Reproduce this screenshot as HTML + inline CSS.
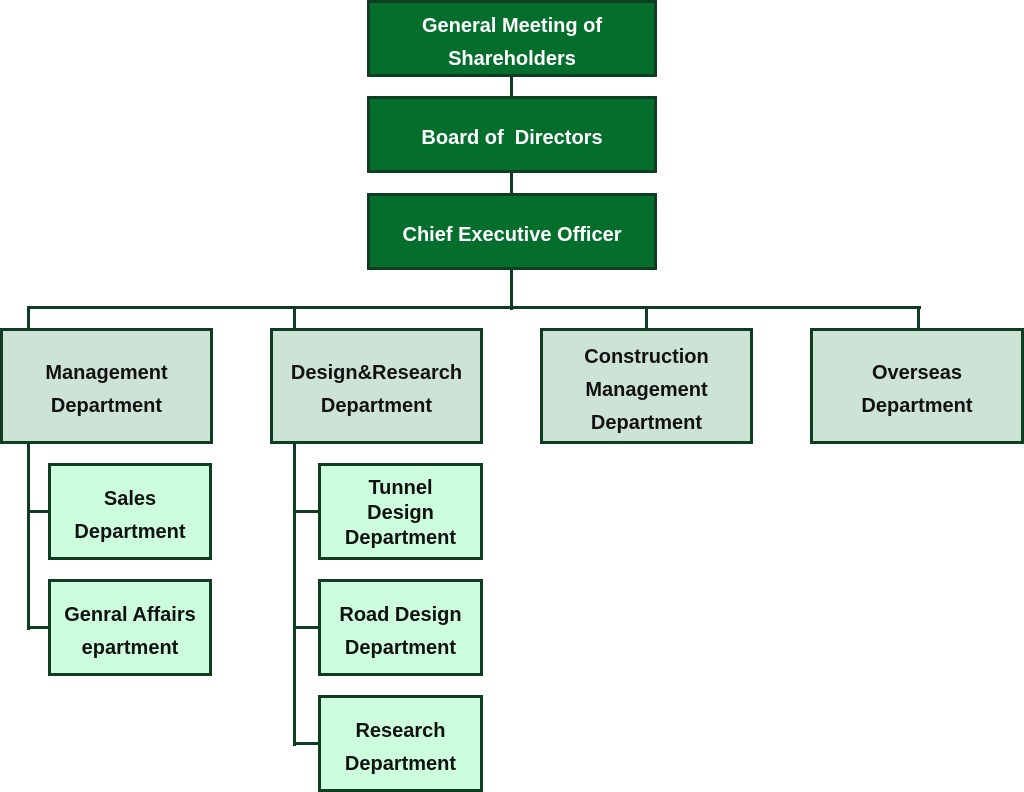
<!DOCTYPE html>
<html><head><style>
body{margin:0;width:1024px;height:792px;background:#fff;position:relative;overflow:hidden;font-family:"Liberation Sans","DejaVu Sans",sans-serif;font-weight:bold;}
.b{position:absolute;box-sizing:border-box;border:3px solid #0f3d22;display:flex;align-items:center;justify-content:center;text-align:center;font-size:20px;line-height:33px;padding-top:8px;}
.t{background:#046f2d;color:#fff;}
.m{background:#cde3d6;color:#111;}
.s{background:#ccfddd;color:#111;line-height:25px;}
.l{position:absolute;background:#0f3d22;}
</style></head><body>
<div class="l" style="left:510px;top:70px;width:3px;height:240px"></div>
<div class="l" style="left:27px;top:306px;width:894px;height:3px"></div>
<div class="l" style="left:27px;top:306px;width:3px;height:324px"></div>
<div class="l" style="left:293px;top:306px;width:3px;height:440px"></div>
<div class="l" style="left:645px;top:306px;width:3px;height:30px"></div>
<div class="l" style="left:917px;top:306px;width:3px;height:30px"></div>
<div class="l" style="left:27px;top:510px;width:25px;height:3px"></div>
<div class="l" style="left:27px;top:626px;width:25px;height:3px"></div>
<div class="l" style="left:293px;top:510px;width:28px;height:3px"></div>
<div class="l" style="left:293px;top:626px;width:28px;height:3px"></div>
<div class="l" style="left:293px;top:742px;width:28px;height:3px"></div>

<div class="b t" style="left:367px;top:0;width:290px;height:77px">General Meeting of<br>Shareholders</div>
<div class="b t" style="left:367px;top:96px;width:290px;height:77px">Board of&nbsp; Directors</div>
<div class="b t" style="left:367px;top:193px;width:290px;height:77px">Chief Executive Officer</div>

<div class="b m" style="left:0;top:328px;width:213px;height:116px">Management<br>Department</div>
<div class="b m" style="left:270px;top:328px;width:213px;height:116px">Design&amp;Research<br>Department</div>
<div class="b m" style="left:540px;top:328px;width:213px;height:116px">Construction<br>Management<br>Department</div>
<div class="b m" style="left:810px;top:328px;width:214px;height:116px">Overseas<br>Department</div>

<div class="b s" style="left:48px;top:463px;width:164px;height:97px;line-height:33px">Sales<br>Department</div>
<div class="b s" style="left:48px;top:579px;width:164px;height:97px;line-height:33px">Genral Affairs<br>epartment</div>
<div class="b s" style="left:318px;top:463px;width:165px;height:97px;padding-top:4px">Tunnel<br>Design<br>Department</div>
<div class="b s" style="left:318px;top:579px;width:165px;height:97px;line-height:33px">Road Design<br>Department</div>
<div class="b s" style="left:318px;top:695px;width:165px;height:97px;line-height:33px">Research<br>Department</div>
</body></html>
